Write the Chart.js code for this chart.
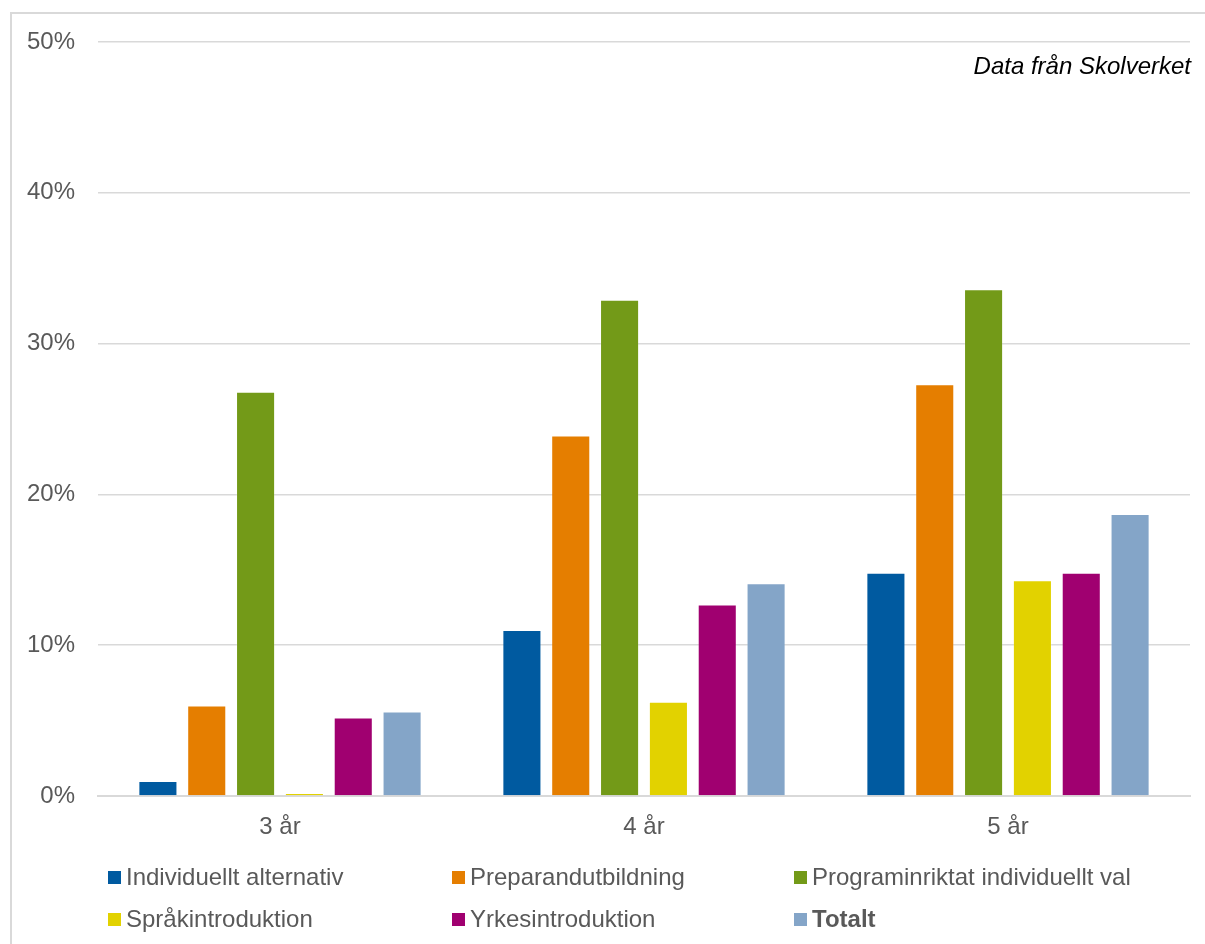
<!DOCTYPE html>
<html>
<head>
<meta charset="utf-8">
<script src="https://cdn.jsdelivr.net/npm/chart.js@4"></script>
<style>
  html, body { margin: 0; padding: 0; background: #fff; }
  #wrap { position: relative; width: 1205px; height: 944px; overflow: hidden; }
  #frame { position: absolute; left: 10px; top: 12px; width: 1220px; height: 960px;
           border: 2px solid #d9d9d9; box-sizing: border-box; }
  #chart { position: absolute; left: 0; top: 0; }
  #legend { position: absolute; left: 108px; top: 865px; width: 1100px;
            display: grid; grid-template-columns: 344px 342px 400px; row-gap: 18px;
            font-family: "Liberation Sans", Arial, sans-serif; font-size: 24px; color: #595959; }
  #legend .item { display: flex; align-items: center; height: 24px; white-space: nowrap; }
  #legend .box { width: 13px; height: 13px; margin-right: 5px; flex: none; }
</style>
</head>
<body>
<div id="wrap">
  <div id="frame"></div>
  <canvas id="chart" width="1205" height="944"></canvas>
  <div id="legend"></div>
</div>
<script>
// Andel (%) per år efter start på introduktionsprogram
const categories = ['3 år', '4 år', '5 år'];
const seriesNames = [
  'Individuellt alternativ',
  'Preparandutbildning',
  'Programinriktat individuellt val',
  'Språkintroduktion',
  'Yrkesintroduktion',
  'Totalt',
];
const individuelltAlternativ = [1.0, 11.0, 14.8];
const preparandutbildning = [6.0, 23.9, 27.3];
const programinriktat = [26.8, 32.9, 33.6];
const sprakintroduktion = [0.2, 6.25, 14.3];
const yrkesintroduktion = [5.2, 12.7, 14.8];
const totalt = [5.6, 14.1, 18.7];
const yTicks = [0, 10, 20, 30, 40, 50];

const colors = ['#005aa0', '#e57e00', '#739a18', '#e2d200', '#a00070', '#84a5c8'];
const values = [
  individuelltAlternativ,
  preparandutbildning,
  programinriktat,
  sprakintroduktion,
  yrkesintroduktion,
  totalt,
];

const font = '"Liberation Sans", Arial, sans-serif';

// "Data från Skolverket" in the top right corner of the plot
const sourceNote = {
  id: 'sourceNote',
  afterDraw(chart) {
    const { ctx, chartArea } = chart;
    ctx.save();
    ctx.font = 'italic 24px ' + font;
    ctx.fillStyle = '#000';
    ctx.textAlign = 'right';
    ctx.textBaseline = 'alphabetic';
    ctx.fillText('Data från Skolverket', chartArea.right + 1, 74);
    ctx.restore();
  },
};

const ctx = document.getElementById('chart').getContext('2d');
const chart = new Chart(ctx, {
  type: 'bar',
  data: {
    labels: categories,
    datasets: seriesNames.map((name, i) => ({
      label: name,
      data: values[i],
      backgroundColor: colors[i],
      borderColor: 'rgba(255,255,255,0.15)',
      borderWidth: 1,
      categoryPercentage: 0.805,
      barPercentage: 0.8,
    })),
  },
  options: {
    responsive: false,
    animation: false,
    devicePixelRatio: 1,
    layout: { padding: { top: 42, right: 15, left: 0, bottom: 0 } },
    plugins: {
      legend: { display: false },
      tooltip: { enabled: false },
    },
    scales: {
      x: {
        grid: { display: false, drawTicks: false },
        border: { color: '#d9d9d9', width: 2 },
        ticks: { color: '#595959', font: { family: font, size: 24 }, padding: 17 },
        afterFit(scale) { scale.height = 148; },
      },
      y: {
        min: 0,
        max: 50,
        afterBuildTicks(scale) { scale.ticks = yTicks.map((v) => ({ value: v })); },
        grid: { color: '#d9d9d9', lineWidth: 1.5, drawTicks: false },
        border: { display: false },
        ticks: {
          color: '#595959',
          font: { family: font, size: 24 },
          padding: 23,
          callback: (v) => v + '%',
        },
        afterFit(scale) { scale.width = 98; },
      },
    },
  },
  plugins: [sourceNote],
});

// legend in three columns, built from the datasets
const legend = document.getElementById('legend');
chart.data.datasets.forEach((ds) => {
  const item = document.createElement('div');
  item.className = 'item';
  const box = document.createElement('span');
  box.className = 'box';
  box.style.background = ds.backgroundColor;
  const text = document.createElement('span');
  text.textContent = ds.label;
  if (ds.label === 'Totalt') text.style.fontWeight = 'bold';
  item.appendChild(box);
  item.appendChild(text);
  legend.appendChild(item);
});
</script>
</body>
</html>
